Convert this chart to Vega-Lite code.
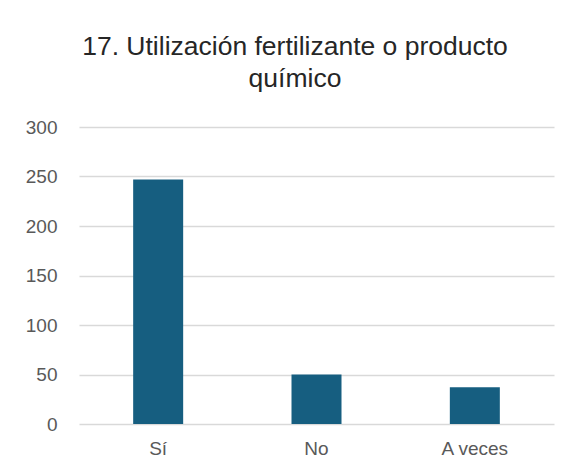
{
  "$schema": "https://vega.github.io/schema/vega-lite/v6.json",
  "width": 475,
  "height": 297,
  "autosize": {"type": "none"},
  "padding": {"left": 79, "top": 127, "right": 18, "bottom": 48},
  "background": "white",
  "title": {
    "text": ["17. Utilización fertilizante o producto", "químico"],
    "font": "Liberation Sans",
    "fontSize": 26.5,
    "fontWeight": "normal",
    "color": "#262626",
    "anchor": "middle",
    "frame": "group",
    "baseline": "alphabetic",
    "dx": -21.5,
    "lineHeight": 32,
    "offset": 5
  },
  "data": {
    "values": [
      {"respuesta": "Sí", "cantidad": 247},
      {"respuesta": "No", "cantidad": 50},
      {"respuesta": "A veces", "cantidad": 37}
    ]
  },
  "mark": {"type": "bar", "color": "#165e80", "size": 50},
  "encoding": {
    "x": {
      "field": "respuesta",
      "type": "nominal",
      "sort": null,
      "scale": {"paddingInner": 0, "paddingOuter": 0},
      "axis": {
        "title": null,
        "labelAngle": 0,
        "domain": false,
        "ticks": false,
        "grid": false,
        "labelFont": "Liberation Sans",
        "labelFontSize": 19,
        "labelColor": "#595959",
        "labelPadding": 15
      }
    },
    "y": {
      "field": "cantidad",
      "type": "quantitative",
      "scale": {"domain": [0, 300]},
      "axis": {
        "title": null,
        "values": [0, 50, 100, 150, 200, 250, 300],
        "domain": false,
        "ticks": false,
        "gridColor": "#d9d9d9",
        "gridWidth": 1.5,
        "labelFont": "Liberation Sans",
        "labelFontSize": 19,
        "labelColor": "#595959",
        "labelPadding": 22
      }
    }
  },
  "config": {"view": {"stroke": null}}
}
